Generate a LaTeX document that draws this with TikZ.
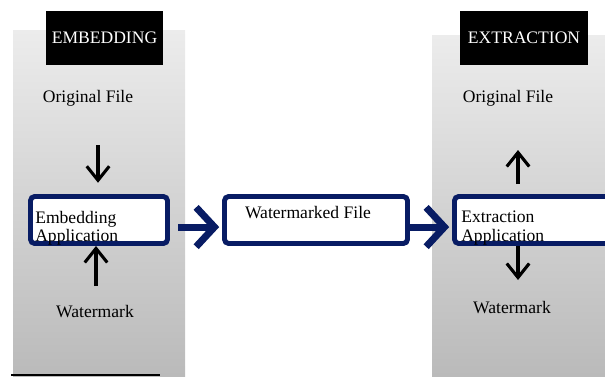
\documentclass[tikz,border=0pt]{standalone}
\usepackage{fontspec}
\setmainfont{Liberation Serif}
\usepackage{tikz}
\usetikzlibrary{arrows.meta}
\definecolor{colNavy}{RGB}{8,28,100}
\definecolor{colPanelTop}{RGB}{236,236,236}
\definecolor{colPanelBot}{RGB}{186,186,186}

\begin{document}
\begin{tikzpicture}[x=0.025cm, y=-0.025cm, font=\rmfamily\fontsize{12.5}{13}\selectfont,
    panel/.style={top color=colPanelTop, bottom color=colPanelBot, draw=none},
    hdr/.style={fill=black, text=white, minimum height=1.325cm, inner sep=0pt},
    appbox/.style={draw=colNavy, line width=3.5pt, rounded corners=3pt, fill=white,
                   minimum height=1.175cm, inner sep=0pt},
    txt/.style={inner sep=0pt},
    updown/.style={-{Straight Barb[length=10pt, width=16pt, line width=2.2pt]}, line width=2.2pt},
    flow/.style={-{Straight Barb[length=13pt, width=28pt]}, line width=5pt, colNavy}]

\clip (0,0) rectangle (605,376);

% Panneaux gris
\fill[panel] (13,30) rectangle (185,376);
\fill[panel] (432,35) rectangle (605,376);
\draw[line width=1.4pt] (11,375) -- (160,375);

% En-tetes
\node[hdr, minimum width=2.925cm] (embhdr) at (104.5,38) {EMBEDDING};
\node[hdr, minimum width=3.2cm] (exthdr) at (524,38) {EXTRACTION};

% Textes des panneaux
\node[txt] (origL) at (88,98) {Original File};
\node[txt] (wmL) at (95,312) {Watermark};
\node[txt] (origR) at (508,98) {Original File};
\node[txt] (wmR) at (512,308) {Watermark};

% Boites
\node[appbox, minimum width=3.425cm] (embbox) at (99,220) {};
\node[appbox, minimum width=4.575cm] (wmbox) at (316,220) {};
\node[appbox, minimum width=4.125cm] (extbox) at (537,220) {};

\node[txt, anchor=north west, align=left] (embtxt) at (35,211) {Embedding\\Application};
\node[txt] (wmtxt) at (308,213) {Watermarked File};
\node[txt, anchor=north west, align=left] (exttxt) at (461,211) {Extraction\\Application};

% Fleches verticales
\coordinate (inL) at (98,145);
\coordinate (inW) at (96,286);
\coordinate (outR) at (518,150);
\coordinate (outW) at (518,280);
\draw[updown] (inL) -- (inL |- embbox.north) [shorten >=8pt];
\draw[updown] (inW) -- (inW |- embbox.south);
\draw[updown] (outR |- extbox.north) [shorten <=7pt] -- (outR);
\draw[updown] (outW |- extbox.south) -- (outW);

% Fleches de flux
\draw[flow, shorten <=6pt, shorten >=2pt]
    ([yshift=-5pt]embbox.east) -- ([yshift=-5pt]wmbox.west);
\draw[flow, shorten >=2pt]
    ([yshift=-5pt]wmbox.east) -- ([yshift=-5pt]extbox.west);

\end{tikzpicture}
\end{document}
